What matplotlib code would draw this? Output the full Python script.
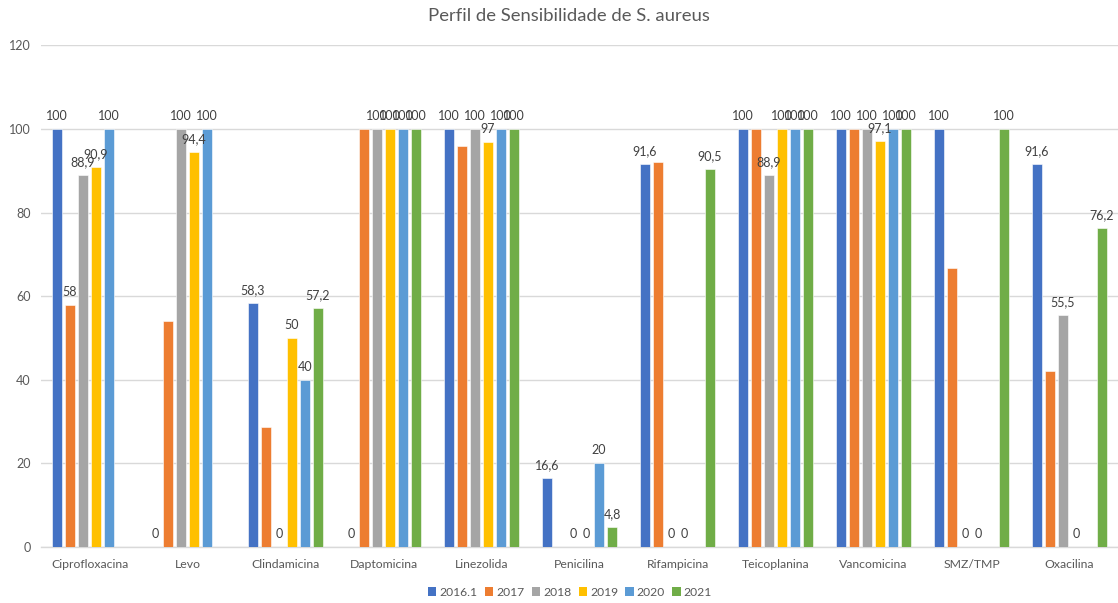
import numpy as np
import matplotlib
matplotlib.use("Agg")
import matplotlib.pyplot as plt
from matplotlib.patches import Patch

plt.rcParams['font.family'] = ['Lato', 'DejaVu Sans']

categories = ["Ciprofloxacina", "Levo", "Clindamicina", "Daptomicina", "Linezolida",
              "Penicilina", "Rifampicina", "Teicoplanina", "Vancomicina", "SMZ/TMP", "Oxacilina"]
series_names = ["2016.1", "2017", "2018", "2019", "2020", "2021"]

s2016 = [100, 0, 58.3, 0, 100, 16.6, 91.6, 100, 100, 100, 91.6]
s2017 = [58, 54, 28.8, 100, 95.9, None, 92.1, 100, 100, 66.7, 42]
s2018 = [88.9, 100, 0, 100, 100, 0, 0, 88.9, 100, 0, 55.5]
s2019 = [90.9, 94.4, 50, 100, 97, 0, 0, 100, 97.1, 0, 0]
s2020 = [100, 100, 40, 100, 100, 20, None, 100, 100, None, None]
s2021 = [None, None, 57.2, 100, 100, 4.8, 90.5, 100, 100, 100, 76.2]

# which 2017 values carry a data label
label2017 = [True, False, False, False, False, False, False, False, False, False, False]

series = [s2016, s2017, s2018, s2019, s2020, s2021]
label_masks = [None, label2017, None, None, None, None]
colors = ["#4472C4", "#ED7D31", "#A5A5A5", "#FFC000", "#5B9BD5", "#70AD47"]

W, H = 1118, 603
fig = plt.figure(figsize=(W / 100, H / 100), dpi=100)
ax = fig.add_axes([40.5 / W, (H - 547) / H, 1078 / W, (547 - 45.4) / H])

x = np.arange(len(categories))
slot = 13 / 98
bar_w = 10.5 / 98
text_col = "#595959"


def fmt(v):
    if float(v).is_integer():
        return str(int(v))
    return f"{v:.1f}".replace(".", ",")


for i, (vals, col) in enumerate(zip(series, colors)):
    arr = np.array([np.nan if v is None else v for v in vals], dtype=float)
    offs = (i - 2.5) * slot
    ax.bar(x + offs, arr, width=bar_w, color=col, edgecolor="white",
           linewidth=0.4, zorder=3)
    mask = label_masks[i]
    for j, v in enumerate(arr):
        if np.isnan(v):
            continue
        if mask is not None and not mask[j]:
            continue
        ax.annotate(fmt(v), (x[j] + offs, v), xytext=(0, 5), textcoords="offset points",
                    ha="center", va="bottom", fontsize=9, color="#404040", zorder=4)

ax.set_xlim(-0.5, len(categories) - 0.5)
ax.set_ylim(0, 120)
ax.set_yticks(np.arange(0, 121, 20))
ax.set_xticks(x)
ax.set_xticklabels(categories)
ax.tick_params(axis="both", length=0, labelsize=9, colors=text_col)
ax.tick_params(axis="x", labelsize=8.8)
ax.tick_params(axis="y", pad=7)
ax.tick_params(axis="x", pad=9)
ax.grid(axis="y", color="#D9D9D9", linewidth=1, zorder=0)
for side in ("top", "right", "left"):
    ax.spines[side].set_visible(False)
ax.spines["bottom"].set_color("#D9D9D9")
ax.spines["bottom"].set_linewidth(1)
ax.spines["bottom"].set_zorder(2)

fig.text(569 / W, 1 - 16 / H, "Perfil de Sensibilidade de S. aureus", ha="center", va="center",
         fontsize=13.3, color=text_col)

handles = [Patch(facecolor=c, edgecolor="none") for c in colors]
fig.legend(handles, series_names, loc="center", bbox_to_anchor=(570 / W, 1 - 592 / H),
           ncol=6, frameon=False, fontsize=8.7, labelcolor=text_col,
           handlelength=0.7, handleheight=0.7, handletextpad=0.25, columnspacing=0.6)

fig.savefig("out.png", dpi=100)
